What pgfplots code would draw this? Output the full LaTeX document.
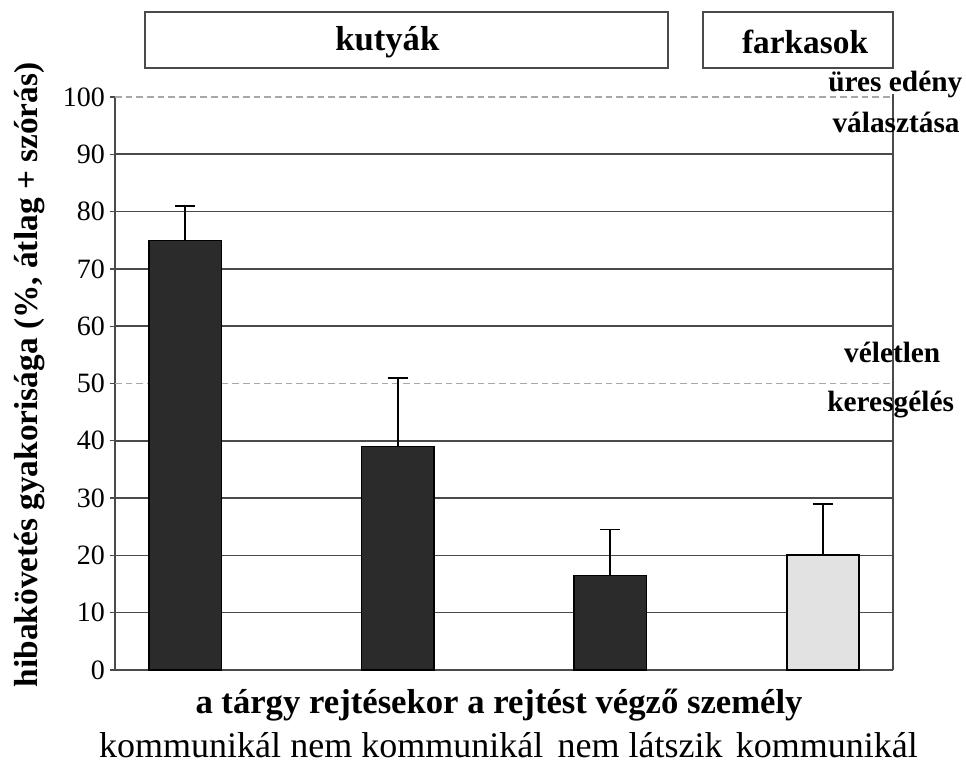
\documentclass[border=0pt]{standalone}
\usepackage{pgfplots}
\pgfplotsset{compat=1.18}
\usepackage{fontspec}
\setmainfont{Liberation Serif}
\definecolor{bardark}{HTML}{2B2B2B}
\definecolor{barlight}{HTML}{E2E2E2}
\definecolor{gridc}{HTML}{4A4A4A}
\definecolor{dashc}{HTML}{A8A8A8}
\begin{document}
\begin{tikzpicture}
\begin{axis}[
  name=ax,
  scale only axis,
  width=583.5pt, height=429.75pt,
  xmin=-0.33, xmax=3.33, ymin=0, ymax=100,
  axis lines=left,
  axis line style={gridc, line width=1.2pt, -},
  xtick={0,1,2,3},
  xticklabels={},
  major x tick style={draw=none},
  ytick={0,10,20,30,40,60,70,80,90},
  extra y ticks={50,100},
  extra y tick style={grid style={dashc, dash pattern=on 5pt off 3pt, line width=1.2pt}},
  ymajorgrids,
  grid style={gridc, line width=1.2pt},
  yticklabel style={font=\fontsize{21}{24}\selectfont},
  /pgf/number format/assume math mode=true,
  tick align=outside,
  major tick length=4pt,
  ytick style={gridc, line width=1pt},
  clip=false,
]
\addplot[ybar, bar width=0.34, fill=bardark, draw=black, line width=1pt,
  error bars/.cd, y dir=plus, y explicit,
  error bar style={black, line width=1.2pt},
  error mark options={rotate=90, mark size=7.5pt, line width=1.2pt}]
  coordinates {(0,75) +- (0,6) (1,39) +- (0,12) (2,16.5) +- (0,8)};
\addplot[ybar, bar width=0.34, fill=barlight, draw=black, line width=1.4pt,
  error bars/.cd, y dir=plus, y explicit,
  error bar style={black, line width=1.2pt},
  error mark options={rotate=90, mark size=7.5pt, line width=1.2pt}]
  coordinates {(3,20) +- (0,9)};
\draw[gridc, line width=1.2pt] (rel axis cs:1,0) -- (rel axis cs:1,1.005);
\draw[gridc, line width=1.2pt] (rel axis cs:0.0386,1.0506) rectangle (rel axis cs:0.7108,1.1483);
\draw[gridc, line width=1.2pt] (rel axis cs:0.7558,1.0506) rectangle (rel axis cs:1.0,1.1483);
\node[font=\bfseries\fontsize{26}{30}\selectfont] at (rel axis cs:0.35,1.096) {kutyák};
\node[font=\bfseries\fontsize{25}{30}\selectfont] at (rel axis cs:0.887,1.096) {farkasok};
\node[font=\bfseries\fontsize{22}{26}\selectfont] at (rel axis cs:1.003,1.021) {üres edény};
\node[font=\bfseries\fontsize{22}{26}\selectfont] at (rel axis cs:1.004,0.956) {választása};
\node[font=\bfseries\fontsize{22}{26}\selectfont] at (rel axis cs:0.999,0.555) {véletlen};
\node[font=\bfseries\fontsize{22}{26}\selectfont] at (rel axis cs:0.997,0.4625) {keresgélés};
\node[font=\bfseries\fontsize{25}{30}\selectfont, rotate=90] at ([xshift=-64pt]rel axis cs:0,0.515) {hibakövetés gyakorisága (\%, átlag + szórás)};
\node[font=\bfseries\fontsize{26}{30}\selectfont] at ([yshift=-26pt]rel axis cs:0.4936,0) {a tárgy rejtésekor a rejtést végző személy};
\node[font=\fontsize{27}{30}\selectfont] at ([yshift=-56pt]rel axis cs:0.0964,0) {kommunikál};
\node[font=\fontsize{27}{30}\selectfont] at ([yshift=-56pt]rel axis cs:0.388,0) {nem kommunikál};
\node[font=\fontsize{27}{30}\selectfont] at ([yshift=-56pt]rel axis cs:0.675,0) {nem látszik};
\node[font=\fontsize{27}{30}\selectfont] at ([yshift=-56pt]rel axis cs:0.915,0) {kommunikál};
\end{axis}
\pgfresetboundingbox
\path ([xshift=-86.25pt,yshift=-71.25pt]ax.south west) rectangle ([xshift=54.75pt,yshift=72.75pt]ax.north east);
\end{tikzpicture}
\end{document}
